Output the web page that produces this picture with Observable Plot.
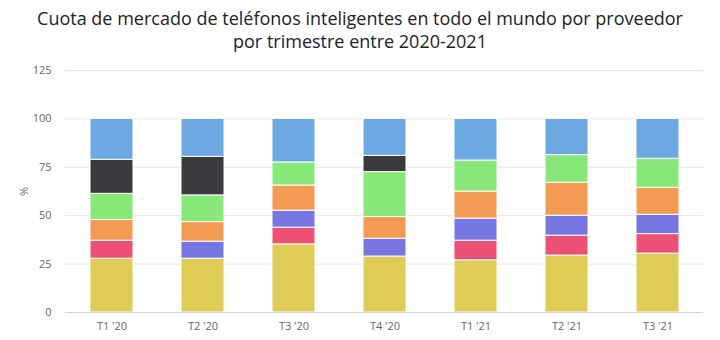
<!DOCTYPE html>
<html>
<head>
<meta charset="utf-8">
<script src="https://cdn.jsdelivr.net/npm/d3@7"></script>
<script src="https://cdn.jsdelivr.net/npm/@observablehq/plot@0.6"></script>
<style>
  body { margin: 0; background: #fff; font-family: "Open Sans", sans-serif; }
  #title { width: 720px; height: 60px; box-sizing: border-box; padding-top: 7px; text-align: center;
           font-size: 18px; line-height: 23px; color: #222; }
</style>
</head>
<body>
<div id="title">Cuota de mercado de teléfonos inteligentes en todo el mundo por proveedor<br>por trimestre entre 2020-2021</div>
<div id="chart"></div>
<script>
const quarters = ["T1 '20", "T2 '20", "T3 '20", "T4 '20", "T1 '21", "T2 '21", "T3 '21"];
const vendors = ["Otros", "Vivo", "Oppo", "Xiaomi", "Apple", "Huawei", "Samsung"];
const colors  = ["#dfcc57", "#ec5074", "#7676e0", "#f39a53", "#87e879", "#3a3a3f", "#6ca9e3"];
const otros   = [27.8, 27.8, 35.2, 28.9, 27.0, 29.4, 30.4];
const vivo    = [9.3, null, 8.6, null, 10.1, 10.3, 10.1];
const oppo    = [null, 8.8, 8.8, 9.2, 11.4, 10.3, 10.0];
const xiaomi  = [10.7, 10.1, 13.0, 11.2, 14.0, 17.0, 13.9];
const apple   = [13.5, 13.8, 11.9, 23.2, 16.0, 14.3, 15.0];
const huawei  = [17.6, 19.9, null, 8.4, null, null, null];
const samsung = [21.1, 19.6, 22.5, 19.1, 21.5, 18.7, 20.6];
const yTicks  = [0, 25, 50, 75, 100, 125];

const series = [otros, vivo, oppo, xiaomi, apple, huawei, samsung];
const data = [];
quarters.forEach((q, i) => {
  vendors.forEach((v, j) => {
    const val = series[j][i];
    if (val != null) data.push({quarter: q, vendor: v, value: val});
  });
});

const chart = Plot.plot({
  width: 720,
  height: 280,
  marginLeft: 65,
  marginRight: 17,
  marginTop: 10,
  marginBottom: 28,
  style: {fontFamily: "'Open Sans', sans-serif", fontSize: "11px", color: "#666"},
  x: {domain: quarters, paddingInner: 0.53, paddingOuter: 0.265, label: null},
  y: {domain: [0, 125], label: "%"},
  color: {domain: vendors, range: colors},
  marks: [
    Plot.ruleY(yTicks, {stroke: "#e6e6e6"}),
    Plot.barY(data, {x: "quarter", y: "value", fill: "vendor", order: vendors, stroke: "#fff", strokeWidth: 1}),
    Plot.ruleY([0], {stroke: "#ccd6eb"}),
    Plot.axisX({tickSize: 0, tickPadding: 10, fontSize: 11, fill: "#666"}),
    Plot.axisY({ticks: yTicks, tickSize: 0, tickPadding: 14, fill: "#666",
                label: "%", labelAnchor: "center", labelArrow: "none", labelOffset: 45})
  ]
});
document.getElementById("chart").appendChild(chart);
</script>
</body>
</html>
